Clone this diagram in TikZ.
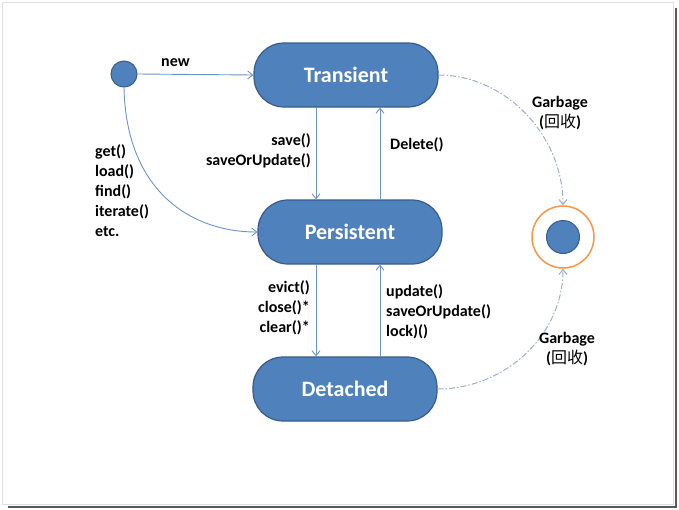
\documentclass[tikz,border=0pt]{standalone}
\usepackage{fontspec}
\setmainfont{Carlito}
\newfontfamily\cjk{Noto Sans CJK SC}
\usetikzlibrary{arrows.meta,calc}
\definecolor{boxfill}{HTML}{4F81BD}
\definecolor{boxline}{HTML}{385D8A}
\definecolor{arrline}{HTML}{6E93C8}
\definecolor{dashline}{HTML}{9AB0CC}
\definecolor{endring}{HTML}{F79646}
\tikzset{
  statebox/.style={draw=boxline, line width=1.2pt, fill=boxfill, rounded corners=30pt,
    minimum width=184pt, minimum height=64pt, text=white,
    font=\fontsize{22}{25}\selectfont\bfseries},
  dotstate/.style={circle, draw=boxline, line width=1pt, fill=boxfill, inner sep=0pt},
  conn/.style={draw=arrline, line width=0.9pt, -{Straight Barb[length=5pt,width=8pt]}},
  gconn/.style={draw=dashline, line width=1pt, dash pattern=on 6pt off 2pt on 1.5pt off 2pt,
    -{Straight Barb[length=5pt,width=8pt]}},
  lbl/.style={font=\fontsize{16}{20}\selectfont\bfseries, inner sep=0pt, text=black},
}
\begin{document}
\begin{tikzpicture}[x=1pt,y=-1pt]
\useasboundingbox (0,0) rectangle (679,509);
\fill[white] (0,0) rectangle (679,509);
\draw[gray!25, line width=0.8pt] (2,2) rectangle (673,504);
\draw[gray!70!black, line width=2pt] (675.5,8) -- (675.5,506.5) -- (8,506.5);

\node[dotstate, minimum size=26pt] (init) at (124,74) {};
\node[statebox] (T) at (346,75) {Transient};
\node[statebox] (P) at (350,232) {Persistent};
\node[statebox] (D) at (345,389) {Detached};
\node[circle, draw=endring, line width=1.5pt, fill=white, minimum size=62pt, inner sep=0pt] (E) at (563,237) {};
\node[dotstate, minimum size=33pt] (Ein) at (563,237) {};

\coordinate (xa) at (316,0);
\coordinate (xb) at (380,0);

\draw[conn] (init.east) -- (T.west);
\node[lbl, anchor=base west] (lnew) at (161,66) {new};

\draw[conn] (init.south) .. controls (126,190) and (190,232) .. (P.west);
\node[lbl, anchor=north west, align=left] (lget) at (95,144) {get()\\load()\\find()\\iterate()\\etc.};

\draw[conn] (T.south -| xa) -- (P.north -| xa);
\node[lbl, anchor=north east, align=right] (lsave) at (311,133) {save()\\saveOrUpdate()};

\draw[conn] (P.north -| xb) -- (T.south -| xb);
\node[lbl, anchor=north west, align=left] (ldel) at (390,137) {Delete()};

\draw[conn] (P.south -| xa) -- (D.north -| xa);
\node[lbl, anchor=north east, align=right] (lev) at (310,280) {evict()\\close()*\\clear()*};

\draw[conn] (D.north -| xb) -- (P.south -| xb);
\node[lbl, anchor=north west, align=left] (lupd) at (386,284) {update()\\saveOrUpdate()\\lock)()};

\draw[gconn] (T.east) .. controls (505,75) and (563,135) .. (E.north);
\node[lbl, anchor=north, align=center] (lg1) at (560,96) {Garbage\\({\cjk\mdseries 回收})};

\draw[gconn] (D.east) .. controls (505,389) and (563,335) .. (E.south);
\node[lbl, anchor=north, align=center] (lg2) at (567,332) {Garbage\\({\cjk\mdseries 回收})};
\end{tikzpicture}
\end{document}
